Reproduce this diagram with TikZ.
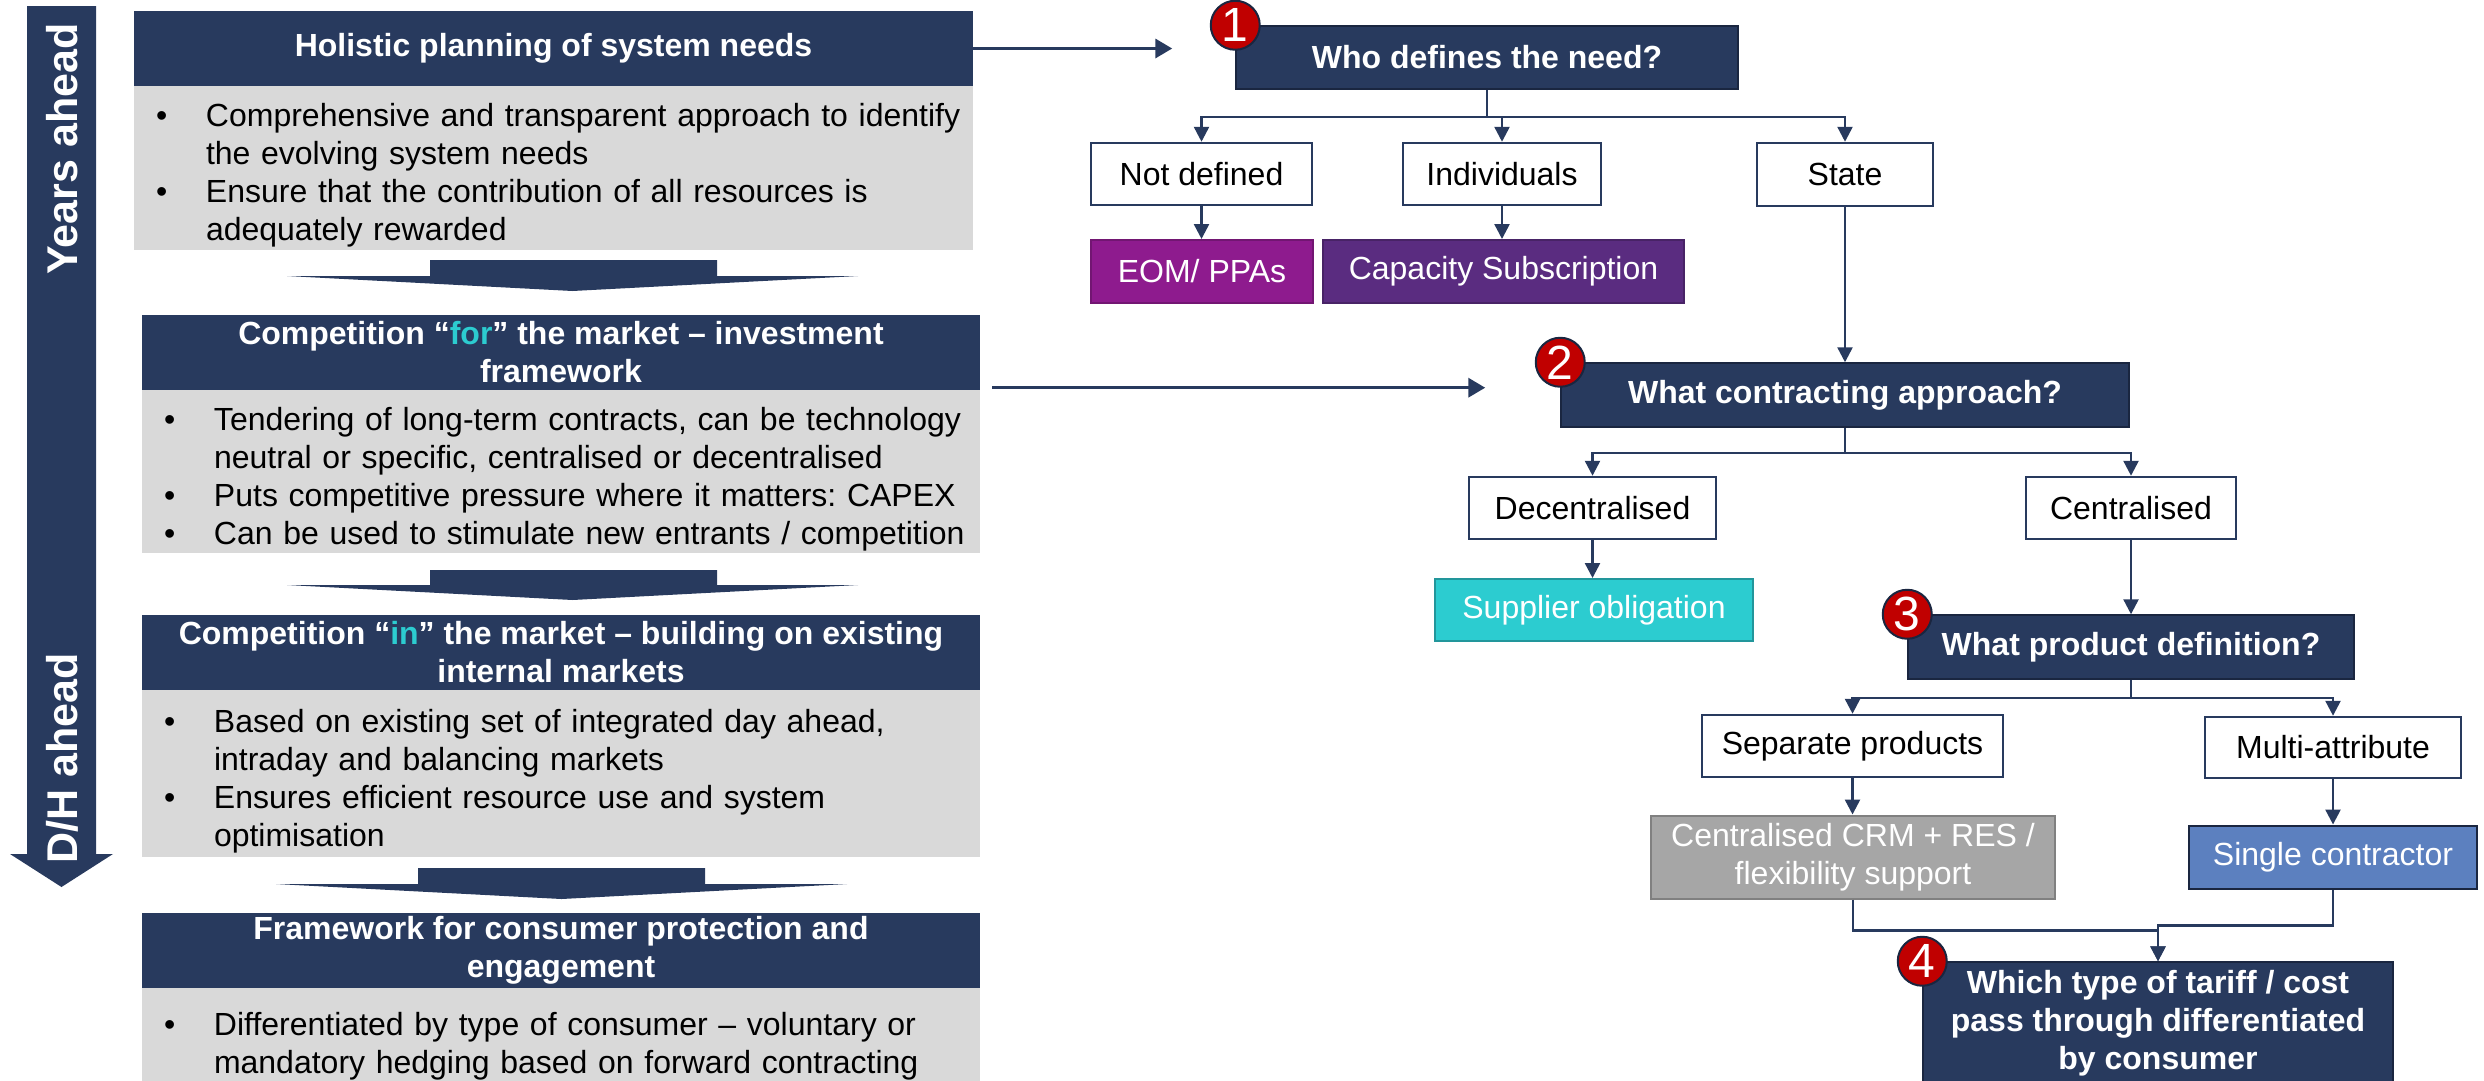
\documentclass[tikz,border=0pt]{standalone}
\usepackage{fontspec}
\setmainfont{Liberation Sans}
\usepackage{tikz}
\usetikzlibrary{arrows.meta,positioning,calc}
\definecolor{Navy}{RGB}{40,58,94}
\definecolor{NavyEdge}{RGB}{26,38,64}
\definecolor{PanelGray}{RGB}{217,217,217}
\definecolor{Plum}{RGB}{142,27,142}
\definecolor{Grape}{RGB}{90,44,128}
\definecolor{Aqua}{RGB}{44,204,208}
\definecolor{AquaEdge}{RGB}{34,150,155}
\definecolor{Ash}{RGB}{166,166,166}
\definecolor{AshEdge}{RGB}{128,128,128}
\definecolor{Steel}{RGB}{92,128,191}
\definecolor{BadgeRed}{RGB}{192,0,0}
\newcommand{\bodyfont}{\fontsize{32}{38}\selectfont\frenchspacing}
\newcommand{\bpoint}[1]{\par\hangindent=62pt\hangafter=1\noindent\hbox to 62pt{\hspace{12pt}\textbullet\hfil}#1\par}
\tikzset{
  sidelabel/.style={rotate=90,text=white,inner sep=0pt,font=\fontsize{43}{50}\selectfont\bfseries},
  head/.style={fill=Navy,text=white,minimum width=838pt,minimum height=75pt,inner sep=0pt,align=center,font=\bodyfont\bfseries},
  panel/.style={fill=PanelGray,text width=818pt,inner xsep=10pt,inner ysep=0pt,align=left,font=\bodyfont},
  question/.style={fill=Navy,draw=NavyEdge,line width=1.5pt,text=white,inner sep=0pt,align=center,font=\bodyfont\bfseries},
  option/.style={fill=white,draw=Navy,line width=2.5pt,inner sep=0pt,font=\bodyfont},
  outcome/.style={draw=#1,line width=2pt,text=white,inner sep=0pt,align=center,font=\bodyfont},
  badge/.style={circle,fill=BadgeRed,draw=NavyEdge,line width=2pt,minimum size=49pt,inner sep=0pt,text=white,font=\fontsize{48}{48}\selectfont},
  link/.style={-{Triangle[width=15pt,length=15pt]},draw=Navy,line width=2.5pt},
  feed/.style={-{Triangle[width=19pt,length=17pt]},draw=Navy,line width=3.5pt}
}

\begin{document}
\begin{tikzpicture}[x=1pt,y=-1pt]
\useasboundingbox (0,0) rectangle (2484,1080);

% time axis
\fill[Navy] (27,6) -- (96,6) -- (96,854) -- (113,854) -- (61.5,887) -- (10,854) -- (27,854) -- cycle;
\node[sidelabel] (years) at (62,149) {Years ahead};
\node[sidelabel] (dhahead) at (62,758) {D/H ahead};

% left column: headers and bullet panels
\node[head,minimum width=839pt] (holhead) at (553.5,48.5) {Holistic planning of system needs};
\node[panel,text width=819pt,minimum height=164pt] (holbody) at (553.5,168) {%
\bpoint{Comprehensive and transparent approach to identify\newline the evolving system needs}%
\bpoint{Ensure that the contribution of all resources is\newline adequately rewarded}};

\node[head] (forhead) at (561,352) {Competition “\textcolor{Aqua}{for}” the market – investment\\framework};
\node[panel,minimum height=163pt] (forbody) at (561,471.5) {%
\bpoint{Tendering of long-term contracts, can be technology\newline neutral or specific, centralised or decentralised}%
\bpoint{Puts competitive pressure where it matters: CAPEX}%
\bpoint{Can be used to stimulate new entrants / competition}};

\node[head] (inhead) at (561,652.5) {Competition “\textcolor{Aqua}{in}” the market – building on existing\\internal markets};
\node[panel,minimum height=167pt] (inbody) at (561,773.5) {%
\bpoint{Based on existing set of integrated day ahead,\newline intraday and balancing markets}%
\bpoint{Ensures efficient resource use and system\newline optimisation}};

\node[head] (prothead) at (561,950) {Framework for consumer protection and\\engagement};
\node[panel,minimum height=102pt] (protbody) at (561,1039) {%
\bpoint{Differentiated by type of consumer – voluntary or\newline mandatory hedging based on forward contracting}};

% broad arrows between the stages
\fill[Navy] (430,260) -- (717,260) -- (717,276) -- (858,276) -- (572.5,291) -- (287,276) -- (430,276) -- cycle;
\fill[Navy] (430,570) -- (717,570) -- (717,585) -- (858,585) -- (572.5,600) -- (287,585) -- (430,585) -- cycle;
\fill[Navy] (418,868) -- (705,868) -- (705,884) -- (847,884) -- (561.5,899) -- (276,884) -- (418,884) -- cycle;

% decision tree
\node[question,minimum width=502pt,minimum height=63pt] (q1) at (1487,57.5) {Who defines the need?};
\node[option,minimum width=221pt,minimum height=62pt] (notdef) at (1201.5,174) {Not defined};
\node[option,minimum width=198pt,minimum height=62pt] (indiv) at (1502,174) {Individuals};
\node[option,minimum width=176pt,minimum height=63pt] (state) at (1845,174.5) {State};
\node[outcome=Plum!80!black,fill=Plum,minimum width=222pt,minimum height=63pt] (eom) at (1202,271.5) {EOM/ PPAs};
\node[outcome=Grape!80!black,fill=Grape,minimum width=361pt,minimum height=63pt] (capsub) at (1503.5,271.5) {Capacity Subscription};

\node[question,minimum width=568pt,minimum height=64pt] (q2) at (1845,395) {What contracting approach?};
\node[option,minimum width=247pt,minimum height=62pt] (decent) at (1592.5,508) {Decentralised};
\node[option,minimum width=210pt,minimum height=62pt] (cent) at (2131,508) {Centralised};
\node[outcome=AquaEdge,fill=Aqua,minimum width=318pt,minimum height=62pt] (supplier) at (1594,610) {Supplier obligation};

\node[question,minimum width=446pt,minimum height=64pt] (q3) at (2131,647) {What product definition?};
\node[option,minimum width=301pt,minimum height=62pt] (separate) at (1852.5,746) {Separate products};
\node[option,minimum width=256pt,minimum height=61pt] (multi) at (2333,747.5) {Multi-attribute};
\node[outcome=AshEdge,fill=Ash,minimum width=404pt,minimum height=83pt] (crm) at (1853,857) {Centralised CRM + RES /\\flexibility support};
\node[outcome=NavyEdge,fill=Steel,minimum width=288pt,minimum height=63pt] (single) at (2333,857) {Single contractor};

\node[question,minimum width=470pt,minimum height=122pt] (q4) at (2158,1023) {Which type of tariff / cost\\pass through differentiated\\by consumer};

% numbered badges
\node[badge] (n1) at (q1.north west) {1};
\node[badge] (n2) at (q2.north west) {2};
\node[badge] (n3) at (q3.north west) {3};
\node[badge] (n4) at (q4.north west) {4};

% connectors
\draw[feed,shorten >=63pt] (holhead.east) -- (holhead.east -| q1.west);
\draw[feed,shorten >=75pt] ([xshift=12pt,yshift=2pt]forhead.south east) -- ([yshift=2pt]forhead.south east -| q2.west);

\draw[link] (q1.south) -- ++(0,27) -| (notdef.north);
\draw[link] (q1.south) -- ++(0,27) -| (indiv.north);
\draw[link] (q1.south) -- ++(0,27) -| (state.north);
\draw[link] (notdef.south) -- (notdef.south |- eom.north);
\draw[link] (indiv.south) -- (indiv.south |- capsub.north);
\draw[link] (state.south) -- (state.south |- q2.north);

\draw[link] (q2.south) -- ++(0,25) -| (decent.north);
\draw[link] (q2.south) -- ++(0,25) -| (cent.north);
\draw[link] (decent.south) -- (decent.south |- supplier.north);
\draw[link] (cent.south) -- (cent.south |- q3.north);

\draw[link] (q3.south) -- ++(0,18) -| (separate.north);
\draw[link] (q3.south) -- ++(0,18) -| (multi.north);
\draw[link] (separate.south) -- (separate.south |- crm.north);
\draw[link] (multi.south) -- (multi.south |- single.north);
\draw[link] (crm.south) -- ++(0,31) -| (q4.north);
\draw[link] (single.south) -- ++(0,36) -| (q4.north);
\end{tikzpicture}
\end{document}
